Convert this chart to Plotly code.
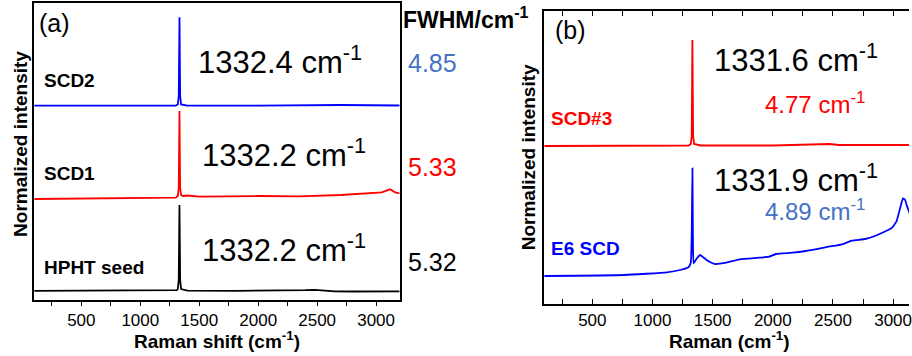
import plotly.graph_objects as go

# ---------------- data ----------------
# Panel (a): stacked Raman spectra (offset, normalized units)
HPHT_PEAK = 1332.2
SCD1_PEAK = 1332.2
SCD2_PEAK = 1332.4
FWHM_A = ["4.85", "5.33", "5.32"]          # SCD2, SCD1, HPHT seed

hpht_shift = [100, 500, 1000, 1250, 1310, 1318, 1326, HPHT_PEAK, 1338, 1346, 1400,
              1800, 2200, 2400, 2480, 2560, 2650, 2800, 3000, 3200]
hpht_int = [0.092, 0.092, 0.092, 0.093, 0.098, 0.11, 0.2, 0.95, 0.2, 0.11, 0.094,
            0.092, 0.093, 0.098, 0.102, 0.096, 0.087, 0.085, 0.086, 0.086]

scd1_shift = [100, 1000, 1300, 1318, 1326, SCD1_PEAK, 1338, 1346, 1360, 1400, 1500,
              2000, 2344, 2700, 2950, 3048, 3119, 3161, 3200]
scd1_int = [1.01, 1.015, 1.023, 1.04, 1.12, 1.89, 1.12, 1.05, 1.04, 1.045, 1.033,
            1.04, 1.036, 1.05, 1.068, 1.077, 1.107, 1.077, 1.067]

scd2_shift = [100, 1000, 1300, 1318, 1326, SCD2_PEAK, 1338, 1346, 1400, 2000,
              2700, 3200]
scd2_int = [1.943, 1.943, 1.944, 1.955, 2.04, 2.827, 2.04, 1.955, 1.944, 1.944,
            1.95, 1.945]

# Panel (b)
SCD3_PEAK = 1331.6
E6_PEAK = 1331.9
FWHM_B = ["4.77", "4.89"]                  # SCD#3, E6 SCD

scd3_shift = [100, 1000, 1300, 1318, 1326, SCD3_PEAK, 1338, 1346, 1400, 2000,
              2400, 2470, 2550, 3000, 3140]
scd3_int = [1.58, 1.58, 1.585, 1.60, 1.68, 2.64, 1.68, 1.60, 1.585, 1.585,
            1.595, 1.60, 1.59, 1.59, 1.59]

e6_shift = [100, 764, 1120, 1230, 1299, 1318, 1326, E6_PEAK, 1336, 1342, 1365,
            1395, 1420, 1450, 1485, 1518, 1614, 1724, 1888, 1971, 2026, 2163,
            2273, 2465, 2575, 2657, 2767, 2849, 2958, 2986, 3027, 3050, 3082,
            3100, 3112, 3140]
e6_int = [0.28, 0.29, 0.317, 0.34, 0.367, 0.41, 0.70, 1.357, 0.70, 0.407, 0.45,
          0.49, 0.47, 0.44, 0.415, 0.40, 0.413, 0.447, 0.463, 0.473, 0.50, 0.513,
          0.53, 0.573, 0.597, 0.633, 0.65, 0.68, 0.74, 0.757, 0.823, 0.92, 1.057,
          1.04, 0.99, 0.90]

TICK_VALS = [250, 500, 750, 1000, 1250, 1500, 1750, 2000, 2250, 2500, 2750, 3000]
TICK_TEXT = ["", "500", "", "1000", "", "1500", "", "2000", "", "2500", "", "3000"]

# ---------------- styling ----------------
W, H = 912, 356
FONT = "Liberation Sans, Arial, sans-serif"
BLUE = "#0000FF"
RED = "#FF0000"
LIGHT_BLUE = "#4472C4"
BLACK = "#000000"


def px(x):
    return x / W


def py(y):
    return 1 - y / H


fig = go.Figure()

line_w = 1.8
fig.add_trace(go.Scatter(x=hpht_shift, y=hpht_int, mode="lines",
                         line=dict(color=BLACK, width=line_w), xaxis="x", yaxis="y"))
fig.add_trace(go.Scatter(x=scd1_shift, y=scd1_int, mode="lines",
                         line=dict(color=RED, width=line_w), xaxis="x", yaxis="y"))
fig.add_trace(go.Scatter(x=scd2_shift, y=scd2_int, mode="lines",
                         line=dict(color=BLUE, width=line_w), xaxis="x", yaxis="y"))
fig.add_trace(go.Scatter(x=scd3_shift, y=scd3_int, mode="lines",
                         line=dict(color=RED, width=line_w), xaxis="x2", yaxis="y2"))
fig.add_trace(go.Scatter(x=e6_shift, y=e6_int, mode="lines",
                         line=dict(color=BLUE, width=line_w, shape="spline",
                                   smoothing=0.4),
                         xaxis="x2", yaxis="y2"))

axis_common = dict(showgrid=False, zeroline=False, linecolor="black", linewidth=1.6,
                   showline=True)

fig.update_layout(
    width=W, height=H,
    margin=dict(l=0, r=0, t=0, b=0),
    paper_bgcolor="white", plot_bgcolor="white",
    showlegend=False,
    font=dict(family=FONT, color="black"),
    xaxis=dict(domain=[px(34.3), px(401)], range=[100, 3200], anchor="y",
               tickvals=TICK_VALS, ticktext=TICK_TEXT, ticks="outside", ticklen=4,
               tickwidth=1.4, tickcolor="black", mirror=True,
               ticklabeloverflow="allow",
               tickfont=dict(size=17, family=FONT), **axis_common),
    yaxis=dict(domain=[py(300), py(3.3)], range=[0, 2.967], anchor="x",
               showticklabels=False, ticks="", mirror=True, **axis_common),
    xaxis2=dict(domain=[px(546), 1.0], range=[100, 3132], anchor="y2",
                tickvals=TICK_VALS, ticktext=TICK_TEXT, ticks="inside", ticklen=5,
                tickwidth=1.4, tickcolor="black", mirror="allticks",
                ticklabeloverflow="allow",
                tickfont=dict(size=17, family=FONT), **axis_common),
    yaxis2=dict(domain=[py(304), py(11)], range=[0, 2.93], anchor="x2",
                showticklabels=False, ticks="", mirror=False, **axis_common),
)

SUP = " cm<sup>-1</sup>"


def label(text, x, y, size, color=BLACK, bold=False, xanchor="left", angle=0):
    if bold:
        text = "<b>" + text + "</b>"
    fig.add_annotation(text=text, x=px(x), y=py(y), xref="paper", yref="paper",
                       xanchor=xanchor, yanchor="middle", showarrow=False,
                       textangle=angle, borderpad=0,
                       font=dict(size=size, color=color, family=FONT))


# Panel (a) labels
label("(a)", 38, 23, 25)
label("SCD2", 43, 80, 19, bold=True)
label("SCD1", 43, 173, 19, bold=True)
label("HPHT seed", 43, 267, 19, bold=True)
label(f"{SCD2_PEAK}" + SUP, 198, 60, 31)
label(f"{SCD1_PEAK}" + SUP, 202, 153, 31)
label(f"{HPHT_PEAK}" + SUP, 202, 248, 31)
label(FWHM_A[0], 408, 63, 25, color=LIGHT_BLUE)
label(FWHM_A[1], 408, 167, 25, color=RED)
label(FWHM_A[2], 408, 262, 25, color=BLACK)
label("FWHM/cm<sup>-1</sup>", 403, 18, 23, bold=True)

# Panel (b) labels
label("(b)", 556, 30, 25)
label(f"{SCD3_PEAK}" + SUP, 715, 58, 31)
label(f"{FWHM_B[0]}" + SUP, 767, 103, 24, color=RED)
label("SCD#3", 552, 118, 19, color=RED, bold=True)
label(f"{E6_PEAK}" + SUP, 715, 178, 31)
label(f"{FWHM_B[1]}" + SUP, 767, 210, 24, color=LIGHT_BLUE)
label("E6 SCD", 552, 248, 19, color=BLUE, bold=True)

# Axis titles
label("Raman shift (cm<sup>-1</sup>)", 218, 340, 19, bold=True, xanchor="center")
label("Raman (cm<sup>-1</sup>)", 732, 340, 19, bold=True, xanchor="center")
label("Normalized intensity", 20, 144, 19, bold=True, xanchor="center", angle=-90)
label("Normalized intensity", 530, 157, 19, bold=True, xanchor="center", angle=-90)

fig.write_html("out.html")
